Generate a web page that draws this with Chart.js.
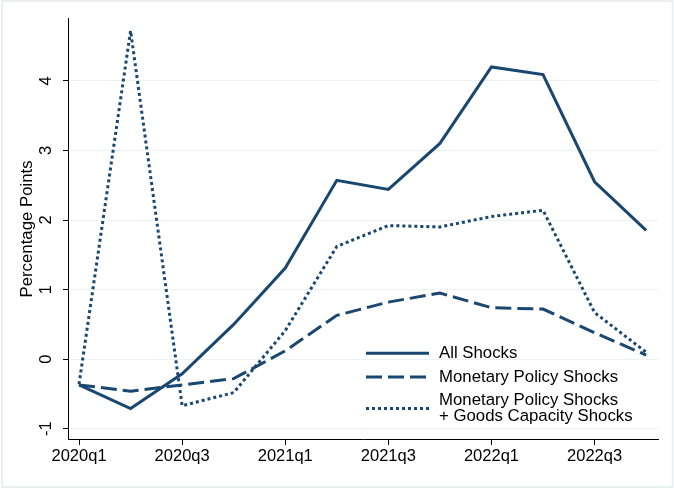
<!DOCTYPE html>
<html>
<head>
<meta charset="utf-8">
<script src="https://cdn.jsdelivr.net/npm/chart.js@4.4.1/dist/chart.umd.min.js"></script>
<style>
  html, body { margin: 0; padding: 0; background: #fff; }
  #wrap { width: 674px; height: 489px; }
</style>
</head>
<body>
<div id="wrap"><canvas id="c" width="674" height="489"></canvas></div>
<script>
// Quarterly responses, in percentage points
const quarters = ['2020q1', '2020q2', '2020q3', '2020q4',
                  '2021q1', '2021q2', '2021q3', '2021q4',
                  '2022q1', '2022q2', '2022q3', '2022q4'];
const allShocks = [-0.37, -0.71, -0.21, 0.50, 1.31, 2.57, 2.44, 3.10, 4.20, 4.09, 2.55, 1.85];
const monetaryPolicyShocks = [-0.37, -0.46, -0.37, -0.28, 0.12, 0.63, 0.82, 0.95, 0.74, 0.72, 0.38, 0.06];
const monetaryPlusGoodsShocks = [-0.36, 4.72, -0.67, -0.48, 0.41, 1.62, 1.92, 1.90, 2.05, 2.14, 0.67, 0.10];

const seriesLabels = [
  ['All Shocks'],
  ['Monetary Policy Shocks'],
  ['Monetary Policy Shocks', '+ Goods Capacity Shocks']
];
const xTickLabels = ['2020q1', '2020q3', '2021q1', '2021q3', '2022q1', '2022q3'];
const yTickValues = [-1, 0, 1, 2, 3, 4];

const navy = '#1a476f';
const gridColor = '#eaf2f3';
const fontFamily = '"Liberation Sans", Arial, Helvetica, sans-serif';
const tickFont = { family: fontFamily, size: 16.5 };
const titleFont = { family: fontFamily, size: 16.8 };

const toPoints = arr => arr.map((v, i) => ({ x: i, y: v }));

// White page with a faint outer frame
const framePlugin = {
  id: 'frame',
  beforeDraw(chart) {
    const ctx = chart.ctx;
    ctx.save();
    ctx.fillStyle = '#fff';
    ctx.fillRect(0, 0, chart.width, chart.height);
    ctx.strokeStyle = '#e3ecee';
    ctx.lineWidth = 1.5;
    ctx.strokeRect(2, 1, chart.width - 3.5, chart.height - 3);
    ctx.restore();
  }
};

// Legend placed inside the lower-right of the plot area
const cornerLegend = {
  id: 'cornerLegend',
  afterDraw(chart) {
    const { ctx, chartArea: a } = chart;
    const symLeft = a.right - 292;
    const symRight = symLeft + 63;
    const textX = symRight + 10;
    const lineGap = 16;
    const rows = [a.bottom - 85.7, a.bottom - 62, a.bottom - 30.5];
    ctx.save();
    ctx.font = '16.8px ' + fontFamily;
    ctx.fillStyle = '#000';
    ctx.textBaseline = 'middle';
    ctx.textAlign = 'left';
    chart.data.datasets.forEach((ds, i) => {
      const cy = rows[i];
      const lines = seriesLabels[i];
      ctx.beginPath();
      ctx.setLineDash(ds.borderDash || []);
      ctx.strokeStyle = ds.borderColor;
      ctx.lineWidth = ds.borderWidth;
      ctx.lineCap = 'butt';
      ctx.moveTo(symLeft, cy);
      ctx.lineTo(symRight, cy);
      ctx.stroke();
      ctx.setLineDash([]);
      const top = cy - (lines.length - 1) * lineGap / 2;
      lines.forEach((t, k) => ctx.fillText(t, textX, top + k * lineGap));
    });
    ctx.restore();
  }
};

new Chart(document.getElementById('c'), {
  type: 'line',
  data: {
    datasets: [
      { label: seriesLabels[0].join(' '), data: toPoints(allShocks),
        borderColor: navy, borderWidth: 3, borderDash: [], pointRadius: 0, tension: 0, fill: false },
      { label: seriesLabels[1].join(' '), data: toPoints(monetaryPolicyShocks),
        borderColor: navy, borderWidth: 3, borderDash: [16, 6], pointRadius: 0, tension: 0, fill: false },
      { label: seriesLabels[2].join(' '), data: toPoints(monetaryPlusGoodsShocks),
        borderColor: navy, borderWidth: 3, borderDash: [3, 3], pointRadius: 0, tension: 0, fill: false }
    ]
  },
  options: {
    responsive: false,
    animation: false,
    events: [],
    layout: { padding: { left: 0, right: 16, top: 17, bottom: 0 } },
    plugins: { legend: { display: false }, tooltip: { enabled: false } },
    scales: {
      x: {
        type: 'linear',
        min: -0.214,
        max: 11.23,
        afterBuildTicks: s => { s.ticks = xTickLabels.map(q => ({ value: quarters.indexOf(q) })); },
        afterFit: s => { s.height = 50; },
        ticks: {
          callback: v => quarters[v],
          font: tickFont, color: '#000', padding: 1.5,
          autoSkip: false, maxRotation: 0, minRotation: 0
        },
        grid: { drawOnChartArea: false, drawTicks: true, tickLength: 6, tickColor: '#000', tickWidth: 1 },
        border: { display: true, color: '#000', width: 1 }
      },
      y: {
        min: -1.147,
        max: 4.89,
        afterBuildTicks: s => { s.ticks = yTickValues.map(v => ({ value: v })); },
        afterFit: s => { s.width = 68; },
        ticks: {
          font: tickFont, color: '#000', padding: 9,
          minRotation: 90, maxRotation: 90, crossAlign: 'center'
        },
        grid: { color: gridColor, lineWidth: 1, drawTicks: true, tickLength: 5, tickColor: '#000', tickWidth: 1 },
        border: { display: true, color: '#000', width: 1 },
        title: {
          display: true, text: 'Percentage Points',
          font: titleFont, color: '#000', padding: { top: 17.4, bottom: 0 }
        }
      }
    }
  },
  plugins: [framePlugin, cornerLegend]
});
</script>
</body>
</html>
